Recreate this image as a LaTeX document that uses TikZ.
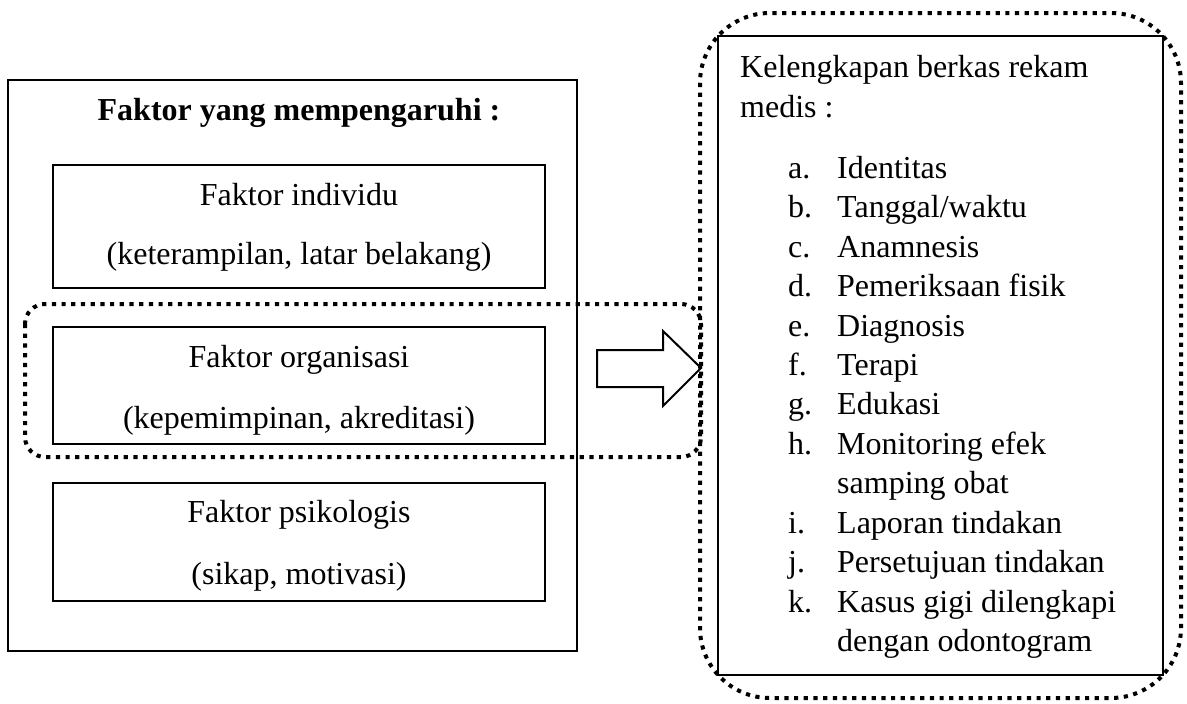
\documentclass[tikz,border=0pt]{standalone}
\usepackage{fontspec}
\setmainfont{Liberation Serif}
\usetikzlibrary{positioning}

\begin{document}
\begin{tikzpicture}[x=1pt,y=-1pt,
	garis/.style={line width=2pt},
	titik/.style={line width=4pt,dash pattern=on 4.2pt off 5.5pt,rounded corners=#1},
	teks/.style={anchor=base,inner sep=0pt,font=\fontsize{32}{39.5}\selectfont},
	tebal/.style={anchor=base,inner sep=0pt,font=\fontsize{32}{39.5}\selectfont\bfseries}]
		\useasboundingbox (0,0) rectangle (1187,704);
		
		% kotak faktor
		\draw[garis] (8,80) rectangle (577,651);
		\draw[garis] (53,165) rectangle (545,288);
		\draw[garis] (53,327) rectangle (545,444);
		\draw[garis] (53,483) rectangle (545,601);
		\draw[titik=20] (25,304) rectangle (701,457);
		
		\node[tebal] (judul) at (299,120) {Faktor yang mempengaruhi :};
		\node[teks] (individu) at (299,205) {Faktor individu};
		\node[teks] (individuket) at (299,264) {(keterampilan, latar belakang)};
		\node[teks] (organisasi) at (299,367) {Faktor organisasi};
		\node[teks] (organisasiket) at (299,428) {(kepemimpinan, akreditasi)};
		\node[teks] (psikologis) at (299,522) {Faktor psikologis};
		\node[teks] (psikologisket) at (299,584) {(sikap, motivasi)};
		
		% panah
		\draw[garis,line join=miter] (597,350) -- (663,350) -- (663,331) -- (701,368) -- (663,406) -- (663,387) -- (597,387) -- cycle;
		
		% kotak rekam medis
		\draw[garis] (718,36) rectangle (1163,675);
		\draw[titik=70] (700,13) rectangle (1181,698);
		
		\node[teks,anchor=base west] (rekam) at (740,77) {Kelengkapan berkas rekam};
		\node[teks,anchor=base west] (medis) at (740,117) {medis :};
		\node[teks,anchor=base west] (daftar) at (788,178) {\begin{tabular}[t]{@{}p{49pt}@{}l@{}}
				a. & Identitas\\
				b. & Tanggal/waktu\\
				c. & Anamnesis\\
				d. & Pemeriksaan fisik\\
				e. & Diagnosis\\
				f. & Terapi\\
				g. & Edukasi\\
				h. & Monitoring efek\\
				   & samping obat\\
				i. & Laporan tindakan\\
				j. & Persetujuan tindakan\\
				k. & Kasus gigi dilengkapi\\
				   & dengan odontogram
			\end{tabular}};
\end{tikzpicture}
\end{document}
